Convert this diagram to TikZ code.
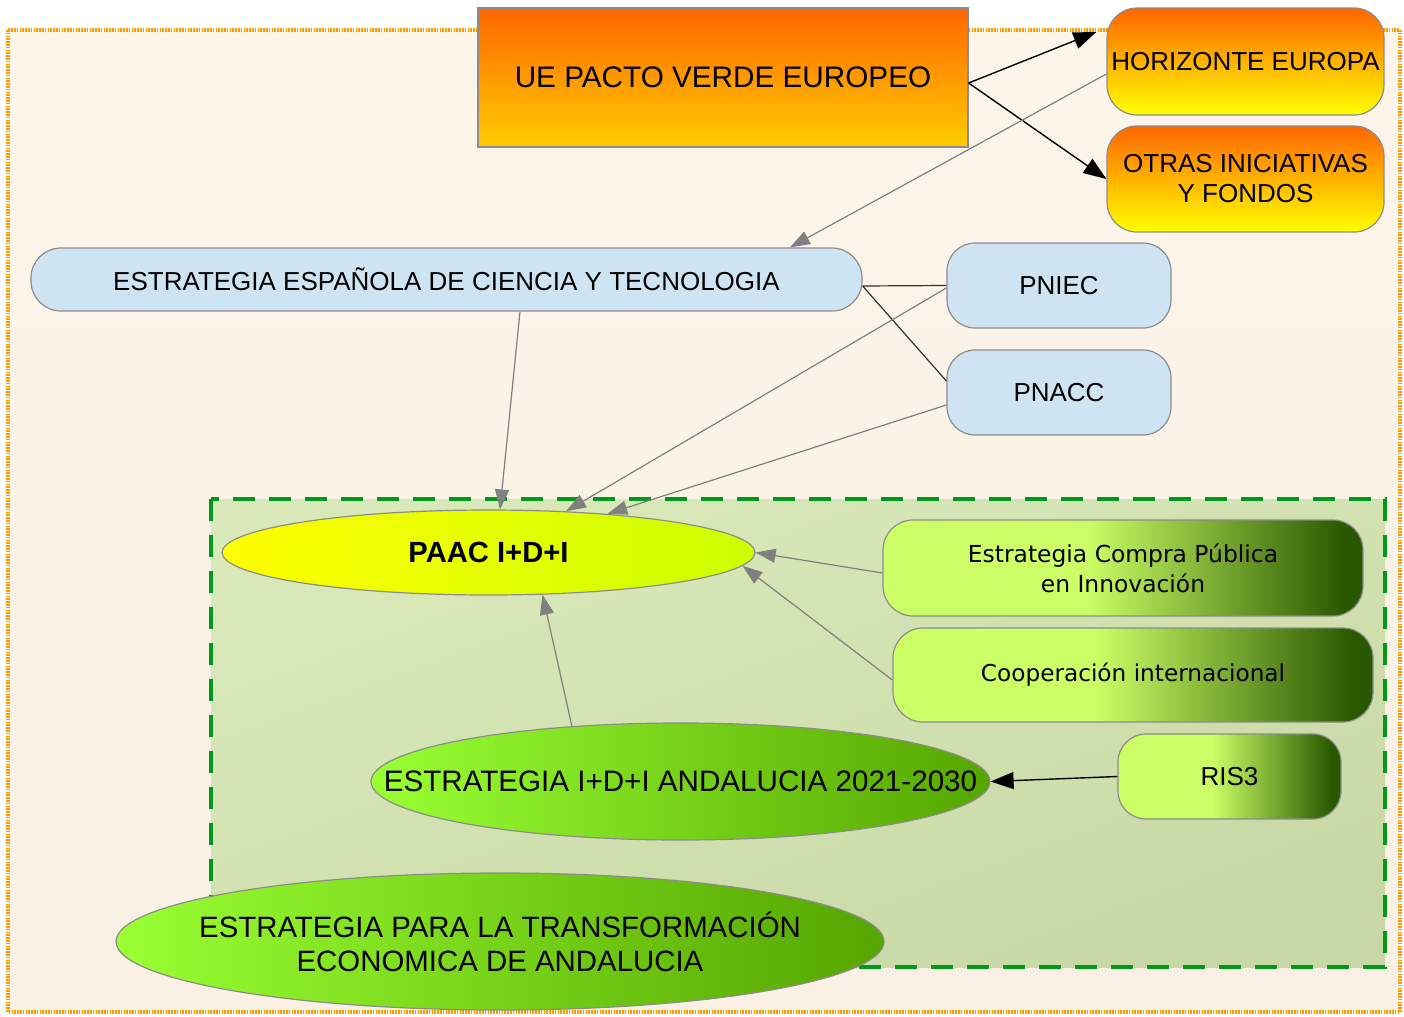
\documentclass[tikz,border=0pt]{standalone}
\usepackage{fontspec}
\setmainfont{Liberation Sans}
\newfontfamily\dejavu{DejaVu Sans}
\usetikzlibrary{shapes.geometric,arrows.meta,calc}
\definecolor{cream}{HTML}{FDF5EA}
\definecolor{cream2}{HTML}{FAF0E4}
\definecolor{dotorange}{HTML}{FF9A00}
\definecolor{orgA}{HTML}{FF6600}
\definecolor{orgB}{HTML}{FFCC00}
\definecolor{yelB}{HTML}{FFFF00}
\definecolor{bluebox}{HTML}{CFE4F3}
\definecolor{boxline}{HTML}{8C8C8C}
\definecolor{areaA}{HTML}{D9E9BA}
\definecolor{areaB}{HTML}{C8D8A6}
\definecolor{dashgreen}{HTML}{009A1A}
\definecolor{paacA}{HTML}{FFFF00}
\definecolor{paacB}{HTML}{CCFF00}
\definecolor{andA}{HTML}{99FF33}
\definecolor{andB}{HTML}{55A600}
\definecolor{lgA}{HTML}{CCFF66}
\definecolor{lgB}{HTML}{2A5800}
\definecolor{arrowgray}{HTML}{808080}
\pgfdeclarehorizontalshading{greenbox}{100bp}{color(0bp)=(lgA); color(25bp)=(lgA); color(46bp)=(lgA); color(73bp)=(lgB); color(100bp)=(lgB)}
\tikzset{
  orangebox/.style={draw=boxline, line width=0.6pt, top color=orgA, bottom color=yelB,
    rounded corners=15pt, inner sep=0pt, align=center, font=\fontsize{13}{15}\selectfont},
  bluenode/.style={draw=boxline, line width=0.6pt, fill=bluebox, rounded corners=14pt,
    inner sep=0pt, align=center, font=\fontsize{13}{15}\selectfont},
  greennode/.style={draw=boxline, line width=0.6pt, shading=greenbox, rounded corners=15pt,
    inner sep=0pt, align=center},
  ellnode/.style={ellipse, draw=boxline, line width=0.6pt, inner sep=0pt},
  grayarrow/.style={draw=arrowgray, line width=0.6pt, -{Triangle[length=10pt,width=7pt]}},
  blackarrow/.style={draw=black, line width=0.7pt, -{Triangle[length=11.5pt,width=8.5pt]}},
  plainline/.style={draw=black!80, line width=0.6pt},
}
\begin{document}
\begin{tikzpicture}[x=0.5pt,y=-0.5pt]
\useasboundingbox (0,0) rectangle (1404,1017);
\fill[white] (0,0) rectangle (1404,1017);
% background panel
\shade[top color=cream, bottom color=cream2] (8,30) rectangle (1400,1012);
\draw[dotorange, line width=2pt, dash pattern=on 0.8pt off 0.6pt] (8,30) rectangle (1400,1012);
% green area
\shade[top color=areaA, bottom color=areaB, shading angle=20] (211,499) rectangle (1385,967);
\draw[dashgreen, line width=2pt, dash pattern=on 11pt off 7pt] (211,499) rectangle (1385,967);

% top nodes
\node[draw=boxline, line width=0.6pt, top color=orgA, bottom color=orgB, minimum width=245pt,
  minimum height=69.5pt, inner sep=0pt, font=\fontsize{14.85}{17}\selectfont]
  (ue) at (723,77.5) {UE PACTO VERDE EUROPEO};
\node[orangebox, minimum width=138.5pt, minimum height=53.5pt] (hor) at (1245.5,61.5) {HORIZONTE EUROPA};
\node[orangebox, minimum width=138.5pt, minimum height=53pt] (otras) at (1245.5,179) {OTRAS INICIATIVAS\\Y FONDOS};

\node[bluenode, rounded corners=15pt, minimum width=415.5pt, minimum height=31.5pt] (esp) at (446.5,279.5)
  {ESTRATEGIA ESPAÑOLA DE CIENCIA Y TECNOLOGIA};
\node[bluenode, minimum width=112pt, minimum height=42.5pt] (pniec) at (1059,285.5) {PNIEC};
\node[bluenode, minimum width=112pt, minimum height=42.5pt] (pnacc) at (1059,392.5) {PNACC};

% green area nodes
\node[ellnode, left color=paacA, right color=paacB, minimum width=266.5pt, minimum height=42.5pt,
  label={[font=\bfseries\fontsize{14.6}{17}\selectfont]center:PAAC I+D+I}] (paac) at (488.5,552.5) {};
\node[greennode, minimum width=240pt, minimum height=48pt, font=\dejavu\fontsize{11.7}{15}\selectfont]
  (compra) at (1123,568) {Estrategia Compra Pública\\en Innovación};
\node[greennode, minimum width=240pt, minimum height=47pt, font=\dejavu\fontsize{11.6}{15}\selectfont]
  (coop) at (1133,675) {Cooperación internacional};
\node[greennode, rounded corners=14pt, minimum width=111.5pt, minimum height=42.5pt, font=\fontsize{13}{15}\selectfont]
  (ris) at (1229.5,776.5) {RIS3};
\node[ellnode, left color=andA, right color=andB, minimum width=309.5pt, minimum height=58.5pt,
  label={[font=\fontsize{14.8}{17}\selectfont]center:ESTRATEGIA I+D+I ANDALUCIA 2021-2030}]
  (andal) at (680.5,781.5) {};
\node[ellnode, left color=andA, right color=andB, minimum width=384pt, minimum height=68.5pt,
  label={[font=\fontsize{14.7}{17}\selectfont, align=center]center:{ESTRATEGIA PARA LA TRANSFORMACIÓN\\ECONOMICA DE ANDALUCIA}}]
  (transf) at (500,941.5) {};

% connectors
\draw[blackarrow] ([yshift=-2.75pt]ue.east) -- ([xshift=-5pt,yshift=14.75pt]hor.west);
\draw[blackarrow] ([yshift=-2.75pt]ue.east) -- (otras.west);
\draw[grayarrow] ([yshift=-6.25pt]hor.west) -- ([xshift=171.75pt]esp.north);
\draw[plainline] ([yshift=-3.25pt]esp.east) -- (pniec.west);
\draw[plainline] ([yshift=-3.25pt]esp.east) -- ([yshift=5.75pt]pnacc.west);
\draw[grayarrow] ([xshift=36.75pt]esp.south) -- (paac.75);
\draw[grayarrow] ([yshift=-1.25pt]pniec.west) -- (paac.28);
\draw[grayarrow] ([yshift=-6.25pt]pnacc.west) -- (paac.18);
\draw[grayarrow] ([yshift=-2.5pt]compra.west) -- (paac.east);
\draw[grayarrow] ([yshift=-2.5pt]coop.west) -- (paac.-3);
\draw[grayarrow] (andal.153) -- (paac.-38);
\draw[blackarrow] (ris.west) -- (andal.east);
\end{tikzpicture}
\end{document}
